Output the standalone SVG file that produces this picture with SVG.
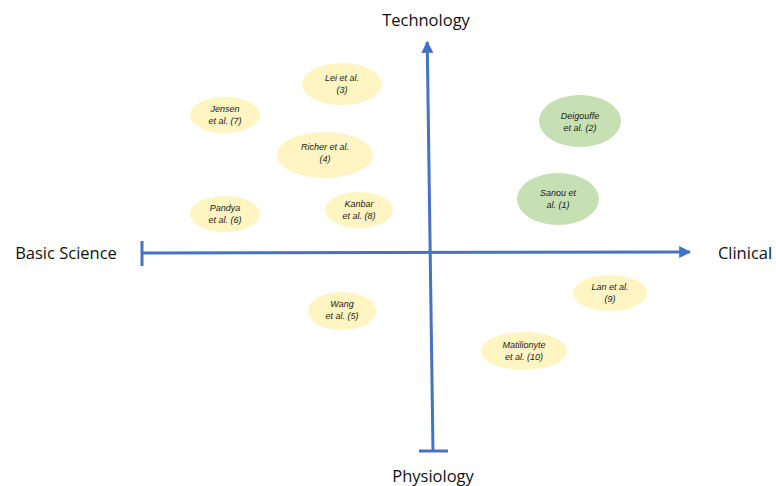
<svg xmlns="http://www.w3.org/2000/svg" width="776" height="486" viewBox="0 0 776 486">
<defs>
<marker id="arr" viewBox="0 0 10 10" refX="9" refY="5" markerWidth="4" markerHeight="4" orient="auto" markerUnits="strokeWidth">
<path d="M0,0 L10,5 L0,10 z" fill="#4472C4"/>
</marker>
<style>
.y{fill:#FFF5C2;}
.g{fill:#C6E0B4;}
.t{font-family:"Liberation Sans",Arial,sans-serif;font-style:italic;font-size:9px;fill:#1a1a1a;text-anchor:middle;}
.ax{font-family:"Open Sans","Liberation Sans",sans-serif;font-size:16.5px;fill:#111;text-anchor:middle;}
.ln{stroke:#4472C4;stroke-width:3;fill:none;}
</style>
</defs>
<rect width="776" height="486" fill="#fff"/>
<g id="connectors">
<line class="ln" x1="433" y1="451" x2="427.2" y2="42" marker-end="url(#arr)"/>
<line class="ln" x1="419" y1="451" x2="448" y2="451"/>
<line class="ln" x1="142" y1="253" x2="690" y2="252" marker-end="url(#arr)"/>
<line class="ln" x1="142" y1="241" x2="142" y2="266"/>
</g>
<g id="lei"><ellipse class="y" cx="342" cy="84" rx="40" ry="21"/><text class="t" x="342" y="81">Lei et al.</text><text class="t" x="342" y="93">(3)</text></g>
<g id="jensen"><ellipse class="y" cx="225" cy="115" rx="35" ry="18"/><text class="t" x="225" y="112">Jensen</text><text class="t" x="225" y="124">et al. (7)</text></g>
<g id="richer"><ellipse class="y" cx="325" cy="155" rx="48" ry="23"/><text class="t" x="325" y="150">Richer et al.</text><text class="t" x="325" y="162">(4)</text></g>
<g id="pandya"><ellipse class="y" cx="225" cy="214" rx="35" ry="18"/><text class="t" x="225" y="211">Pandya</text><text class="t" x="225" y="223">et al. (6)</text></g>
<g id="kanbar"><ellipse class="y" cx="359" cy="210" rx="34" ry="18"/><text class="t" x="359" y="207">Kanbar</text><text class="t" x="359" y="219">et al. (8)</text></g>
<g id="deigouffe"><ellipse class="g" cx="580" cy="121" rx="41" ry="26"/><text class="t" x="580" y="119">Deigouffe</text><text class="t" x="580" y="131">et al. (2)</text></g>
<g id="sanou"><ellipse class="g" cx="558" cy="199" rx="41" ry="26"/><text class="t" x="558" y="196">Sanou et</text><text class="t" x="558" y="208">al. (1)</text></g>
<g id="wang"><ellipse class="y" cx="342" cy="311" rx="34" ry="19"/><text class="t" x="342" y="307">Wang</text><text class="t" x="342" y="319">et al. (5)</text></g>
<g id="lan"><ellipse class="y" cx="610" cy="293" rx="37" ry="18"/><text class="t" x="610" y="290">Lan et al.</text><text class="t" x="610" y="302">(9)</text></g>
<g id="matilionyte"><ellipse class="y" cx="524" cy="351" rx="43" ry="19"/><text class="t" x="524" y="348">Matilionyte</text><text class="t" x="524" y="360">et al. (10)</text></g>
<g id="labels">
<text class="ax" x="426" y="26">Technology</text>
<text class="ax" x="66" y="259">Basic Science</text>
<text class="ax" x="745" y="259">Clinical</text>
<text class="ax" x="433" y="482">Physiology</text>
</g>
</svg>
